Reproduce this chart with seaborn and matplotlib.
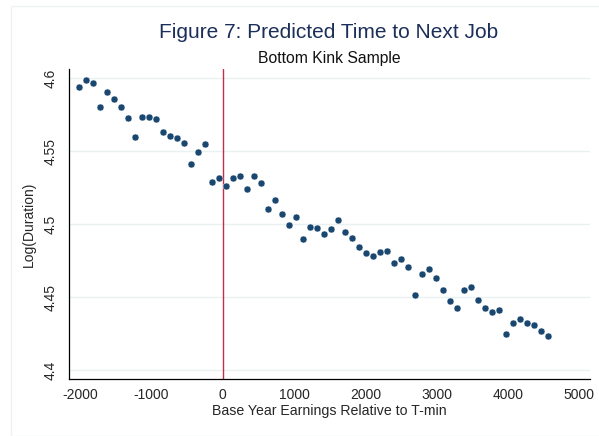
import numpy as np
import pandas as pd
import seaborn as sns
import matplotlib.pyplot as plt
from matplotlib.patches import Rectangle

# Data (bin centres, roughly 98 apart)
earnings = [
    -2009, -1911, -1813, -1715, -1617, -1519, -1421, -1323, -1225, -1127,
    -1029, -931, -833, -735, -637, -539, -441, -343, -245, -147, -49,
    49, 147, 245, 343, 441, 539, 637, 735, 833, 931,
    1029, 1127, 1225, 1323, 1421, 1519, 1617, 1715, 1813, 1911,
    2009, 2107, 2205, 2303, 2401, 2499, 2597, 2695, 2793, 2891,
    2989, 3087, 3185, 3283, 3381, 3479, 3577, 3675, 3773, 3871,
    3969, 4067, 4165, 4263, 4361, 4459, 4557,
]
log_duration = [
    4.5943, 4.5991, 4.5970, 4.5801, 4.5904, 4.5858, 4.5801, 4.5728, 4.5595, 4.5732,
    4.5735, 4.5721, 4.5629, 4.5602, 4.5590, 4.5558, 4.5410, 4.5497, 4.5547, 4.5288, 4.5314,
    4.5261, 4.5320, 4.5332, 4.5240, 4.5327, 4.5279, 4.5105, 4.5169, 4.5069, 4.4995,
    4.5046, 4.4897, 4.4982, 4.4973, 4.4934, 4.4968, 4.5030, 4.4945, 4.4902, 4.4842,
    4.4803, 4.4783, 4.4810, 4.4819, 4.4732, 4.4764, 4.4703, 4.4515, 4.4661, 4.4693,
    4.4629, 4.4549, 4.4471, 4.4426, 4.4549, 4.4570, 4.4483, 4.4423, 4.4400, 4.4414,
    4.4249, 4.4323, 4.4348, 4.4325, 4.4307, 4.4270, 4.4231,
]
x_ticks = [-2000, -1000, 0, 1000, 2000, 3000, 4000, 5000]
y_ticks = [4.4, 4.45, 4.5, 4.55, 4.6]
y_tick_labels = ["4.4", "4.45", "4.5", "4.55", "4.6"]
kink = 0

df = pd.DataFrame({"earnings": earnings, "log_duration": log_duration})

sns.set_style("white")
plt.rcParams['font.family'] = ['Liberation Sans', 'DejaVu Sans']

fig = plt.figure(figsize=(5.99, 4.36), dpi=100)
# faint outer frame like the Stata graph region
fig.patches.append(Rectangle((11 / 599, 0), 1, (436 - 6) / 436, transform=fig.transFigure,
                             fill=False, edgecolor="#eef2f4", linewidth=1))
ax = fig.add_axes([0.1152, 0.130, 0.8698, 0.7117])

ax.set_axisbelow(True)
ax.grid(axis="y", color="#eaf1f3", linewidth=1)
ax.axvline(kink, color="#c03048", linewidth=1, zorder=1)

sns.scatterplot(data=df, x="earnings", y="log_duration", ax=ax, color="#1a476f",
                s=25, edgecolor="white", linewidth=0.3, zorder=3)

ax.set_xlim(-2155, 5150)
ax.set_ylim(4.3936, 4.6064)
ax.set_xticks(x_ticks)
ax.set_xticklabels([str(t) for t in x_ticks])
ax.set_yticks(y_ticks)
ax.set_yticklabels(y_tick_labels, rotation=90, va="center")

for side in ["top", "right"]:
    ax.spines[side].set_visible(False)
for side in ["left", "bottom"]:
    ax.spines[side].set_color("black")
    ax.spines[side].set_linewidth(0.9)
ax.tick_params(axis="both", direction="out", length=3.5, width=0.8, color="#333333",
               labelsize=10, pad=3)
ax.tick_params(axis="y", pad=5)

ax.set_xlabel("Base Year Earnings Relative to T-min", fontsize=10.2, labelpad=1)
ax.set_ylabel("Log(Duration)", fontsize=10, labelpad=5)

fig.text(0.549, 0.912, "Figure 7: Predicted Time to Next Job", ha="center", va="baseline",
         fontsize=15, color="#1c2f5a")
fig.text(0.549, 0.855, "Bottom Kink Sample", ha="center", va="baseline",
         fontsize=11.3, color="#111111")

fig.savefig("out.png", dpi=100)
